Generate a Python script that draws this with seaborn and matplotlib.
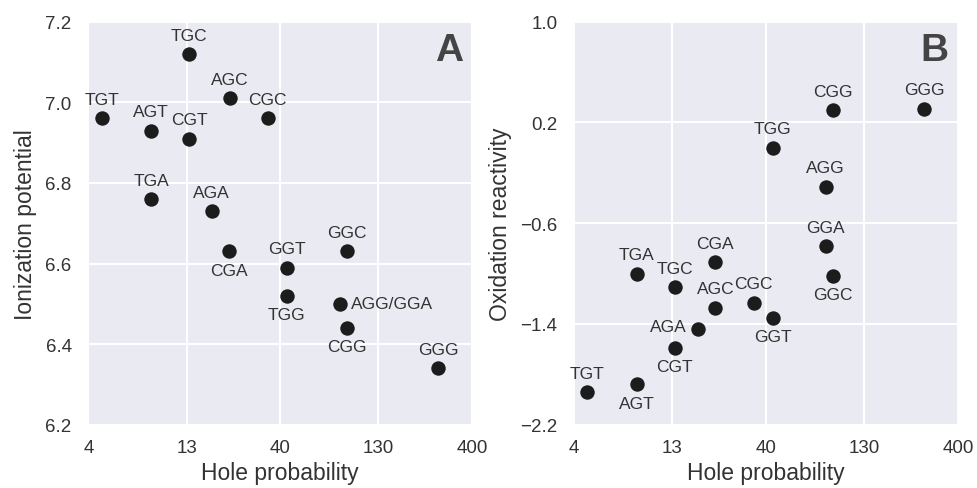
import matplotlib
matplotlib.use("Agg")
import matplotlib.pyplot as plt
from matplotlib.ticker import NullLocator, FixedLocator, FixedFormatter
import seaborn as sns
import pandas as pd

# Ionization potential vs hole probability (panel A)
ip_labels = ["TGC", "AGC", "CGC", "TGT", "AGT", "CGT", "TGA", "AGA", "CGA",
             "GGC", "GGT", "TGG", "AGG/GGA", "CGG", "GGG"]
ip_hole = [13.4, 21.8, 34.5, 4.7, 8.5, 13.4, 8.5, 17.6, 21.7,
           89.3, 43.3, 43.3, 81.7, 89.3, 267]
ip_value = [7.12, 7.01, 6.96, 6.96, 6.93, 6.91, 6.76, 6.73, 6.63,
            6.63, 6.59, 6.52, 6.50, 6.44, 6.34]
ip_place = ["above", "above", "above", "above", "above", "above", "above", "above", "below",
            "above", "above", "below", "right", "below", "above"]

# Oxidation reactivity vs hole probability (panel B)
ox_labels = ["CGG", "GGG", "TGG", "AGG", "GGA", "GGC", "CGA", "TGA", "TGC",
             "AGC", "CGC", "GGT", "AGA", "CGT", "AGT", "TGT"]
ox_hole = [89.3, 267, 43.3, 81.7, 81.7, 89.3, 21.7, 8.5, 13.4,
           21.8, 34.5, 43.3, 17.6, 13.4, 8.5, 4.7]
ox_value = [0.30, 0.31, 0.00, -0.31, -0.78, -1.02, -0.91, -1.00, -1.11,
            -1.27, -1.23, -1.35, -1.44, -1.59, -1.88, -1.94]
ox_place = ["above", "above", "above", "above", "above", "below", "above", "above", "above",
            "above", "above", "below", "left", "below", "below", "above"]

x_ticks = [4, 13, 40, 130, 400]
x_ticklabels = ["4", "13", "40", "130", "400"]
ip_ticks = [6.2, 6.4, 6.6, 6.8, 7.0, 7.2]
ip_ticklabels = ["6.2", "6.4", "6.6", "6.8", "7.0", "7.2"]
ox_ticks = [-2.2, -1.4, -0.6, 0.2, 1.0]
ox_ticklabels = ["\u22122.2", "\u22121.4", "\u22120.6", "0.2", "1.0"]

sns.set_theme(style="darkgrid", rc={"grid.linewidth": 1.5})
plt.rcParams["font.family"] = ["Liberation Sans", "DejaVu Sans"]
text_color = "#333333"

fig = plt.figure(figsize=(9.78, 4.89), dpi=100)
ax_a = fig.add_axes([0.0903, 0.1294, 0.3923, 0.8242])
ax_b = fig.add_axes([0.5869, 0.1294, 0.3927, 0.8242])

offsets = {"above": ((0, 13.5), "center", "center"),
           "below": ((0, -13.5), "center", "center"),
           "right": ((8.5, 0), "left", "center"),
           "left": ((-8, 1.5), "right", "center")}


def panel(ax, labels, xs, ys, places, yticks, yticklabels, ylabel, letter):
    df = pd.DataFrame({"hole": xs, "value": ys, "name": labels})
    sns.scatterplot(data=df, x="hole", y="value", ax=ax, color="#1c1c1c",
                    s=108, linewidth=0, zorder=3)
    ax.set_xscale("log")
    ax.set_xlim(x_ticks[0], x_ticks[-1])
    ax.xaxis.set_major_locator(FixedLocator(x_ticks))
    ax.xaxis.set_major_formatter(FixedFormatter(x_ticklabels))
    ax.xaxis.set_minor_locator(NullLocator())
    ax.set_ylim(yticks[0], yticks[-1])
    ax.yaxis.set_major_locator(FixedLocator(yticks))
    ax.yaxis.set_major_formatter(FixedFormatter(yticklabels))
    ax.tick_params(axis="both", labelsize=13.5, colors=text_color, length=0)
    ax.tick_params(axis="y", pad=12)
    ax.tick_params(axis="x", pad=10)
    ax.set_xlabel("Hole probability", fontsize=16.5, color=text_color, labelpad=4)
    ax.set_ylabel(ylabel, fontsize=16.5, color=text_color, labelpad=6)
    for name, x, y, place in zip(labels, xs, ys, places):
        off, ha, va = offsets[place]
        ax.annotate(name, (x, y), xytext=off, textcoords="offset points",
                    ha=ha, va=va, fontsize=12.5, color=text_color, zorder=4)
    ax.text(0.976, 0.975, letter, transform=ax.transAxes, ha="right", va="top",
            fontsize=28, fontweight="bold", color="#444444")


panel(ax_a, ip_labels, ip_hole, ip_value, ip_place, ip_ticks, ip_ticklabels,
      "Ionization potential", "A")
panel(ax_b, ox_labels, ox_hole, ox_value, ox_place, ox_ticks, ox_ticklabels,
      "Oxidation reactivity", "B")

fig.savefig("out.png", dpi=100)
